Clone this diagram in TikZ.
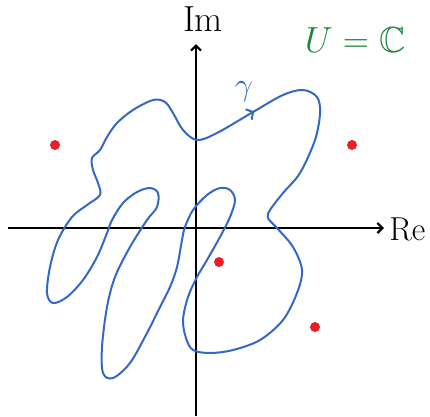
\documentclass[tikz,border=0pt]{standalone}
\usepackage{amssymb}
\usetikzlibrary{arrows.meta,decorations.markings}
\definecolor{curveblue}{RGB}{52,104,196}
\definecolor{dotred}{RGB}{232,30,40}
\definecolor{labelgreen}{RGB}{28,134,58}
\begin{document}
\begin{tikzpicture}[x=1pt, y=-1pt]
        \useasboundingbox (0,0) rectangle (430,416);
        % Axes
        \coordinate (xl) at (8,228);
        \coordinate (xr) at (384,228);
        \coordinate (yb) at (196,416);
        \coordinate (yt) at (196,44);
        \draw[-{Straight Barb[length=5pt,width=10pt]}, line width=2.2pt] (xl) -- (xr);
        \draw[-{Straight Barb[length=5pt,width=10pt]}, line width=2.2pt] (yb) -- (yt);
        \node[font=\huge, scale=1.6, transform shape, anchor=west, inner sep=0pt] (re) at (389,229) {Re};
        \node[font=\huge, scale=1.75, transform shape] (im) at (203,19) {Im};
        \node[font=\huge, scale=1.75, transform shape, labelgreen] (u) at (355,40) {$U=\mathbb{C}$};
        
        % Closed curve gamma
        \draw[line width=2pt, curveblue, smooth cycle, tension=0.55,
              postaction={decorate},
              decoration={markings, mark=at position 0.027 with {\arrow{Straight Barb[length=5pt,width=12pt]}}}]
            plot coordinates {(197,140) (217,133) (253,112) (283,95) (303,90) (317,97) (320,113)
                (315,140) (300,173) (283,193) (270,210) (268,218) (277,228) (293,247) (302,270)
                (297,293) (283,320) (260,340) (233,350) (210,353) (193,350) (186,338) (183,320)
                (188,297) (197,277) (207,260) (220,237) (230,217) (235,200) (230,190) (220,188)
                (207,195) (193,210) (185,227) (182,240) (177,267) (170,287) (160,307) (147,333)
                (130,363) (113,378) (103,373) (102,347) (107,307) (115,277) (130,247) (147,220)
                (157,207) (158,193) (150,188) (137,192) (123,203) (112,220) (107,233) (97,257)
                (83,280) (67,297) (53,303) (47,293) (50,267) (58,240) (72,217) (87,205) (100,195)
                (98,183) (93,170) (92,158) (100,150) (107,137) (117,123) (133,110) (153,100)
                (165,102) (173,113) (183,130)};
        \node[font=\huge, scale=1.55, transform shape, curveblue] (gamma) at (244,92) {$\gamma$};
        
        % Singular points
        \foreach \x/\y in {55/145, 352/145, 219/262, 315/327} {
            \fill[dotred] (\x,\y) circle (5pt);
        }
    \end{tikzpicture}
\end{document}
